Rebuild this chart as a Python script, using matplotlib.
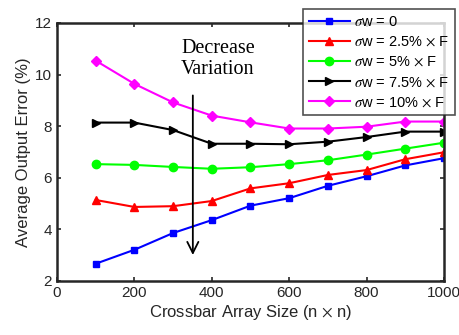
import matplotlib
matplotlib.use("Agg")
import matplotlib.pyplot as plt
import numpy as np

plt.rcParams['font.family'] = ['Liberation Sans', 'DejaVu Sans']
plt.rcParams['mathtext.fontset'] = 'stix'

# Average output error (%) vs crossbar size for different weight variations
size = [100, 200, 300, 400, 500, 600, 700, 800, 900, 1000]
err_0 = [2.67, 3.21, 3.86, 4.36, 4.92, 5.21, 5.69, 6.06, 6.48, 6.76]
err_25 = [5.14, 4.87, 4.90, 5.10, 5.59, 5.79, 6.11, 6.30, 6.72, 6.99]
err_5 = [6.53, 6.50, 6.42, 6.35, 6.41, 6.53, 6.68, 6.90, 7.13, 7.36]
err_75 = [8.14, 8.14, 7.85, 7.32, 7.32, 7.30, 7.40, 7.58, 7.79, 7.79]
err_10 = [10.54, 9.64, 8.92, 8.41, 8.15, 7.91, 7.91, 7.98, 8.18, 8.18]

labels = [r'$\sigma$w = 0',
          r'$\sigma$w = 2.5%$\,\times\,$F',
          r'$\sigma$w = 5%$\,\times\,$F',
          r'$\sigma$w = 7.5%$\,\times\,$F',
          r'$\sigma$w = 10%$\,\times\,$F']

fig = plt.figure(figsize=(4.6, 3.35), dpi=100)
ax = fig.add_axes([57/460, 1 - 281/335, 387/460, 258/335])

ax.plot(size, err_0, '-s', color='#0000ff', lw=1.5, ms=4.5, label=labels[0])
ax.plot(size, err_25, '-^', color='#ff0000', lw=1.5, ms=5.5, label=labels[1])
ax.plot(size, err_5, '-o', color='#00ff00', lw=1.5, ms=6, label=labels[2])
ax.plot(size, err_75, '->', color='black', lw=1.5, ms=5.5, label=labels[3])
ax.plot(size, err_10, '-D', color='#ff00ff', lw=1.5, ms=5, label=labels[4])

ax.set_xlim(0, 1000)
ax.set_ylim(2, 12)
ax.set_xticks(np.arange(0, 1001, 200))
ax.set_yticks(np.arange(2, 13, 2))
ax.tick_params(direction='in', length=3, width=1.2, labelsize=11,
               top=True, right=True, colors='#262626')
for sp in ax.spines.values():
    sp.set_linewidth(1.8)
    sp.set_color('#262626')

ax.set_xlabel('Crossbar Array Size (n$\\,\\times\\,$n)', fontsize=12,
              color='#262626', labelpad=2)
ax.set_ylabel('Average Output Error (%)', fontsize=12, color='#262626',
              labelpad=3)

# arrow showing the direction of decreasing variation
ax.annotate('', xy=(351, 2.9), xytext=(351, 9.3),
            arrowprops=dict(arrowstyle='->', color='black', lw=1.3,
                            mutation_scale=20))
ax.text(416, 10.6, 'Decrease\nVariation', ha='center', va='center',
        fontsize=14.5, family='Liberation Serif', linespacing=1.15)

leg = fig.legend(loc='upper left', bbox_to_anchor=(303/460, 1 - 9/335),
                 fontsize=10.5, frameon=True, fancybox=False,
                 edgecolor='#262626', handlelength=2.8,
                 borderpad=0.4, labelspacing=0.42, handletextpad=0.3,
                 borderaxespad=0)
leg.get_frame().set_linewidth(1.2)

fig.savefig('out.png', dpi=100)
